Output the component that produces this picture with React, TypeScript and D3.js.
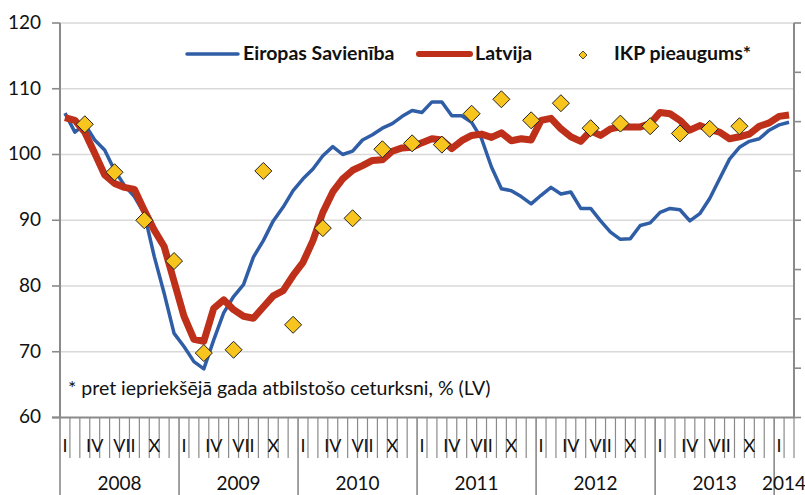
import React from "react";
import * as d3 from "d3";

// Monthly index values, Jan 2008 – Feb 2014
const euValues: number[] = [
  106.3, 103.4, 104.6, 102.2, 100.7, 97.6, 95.3, 93.6, 91.0, 84.5, 78.9, 72.8,
  70.8, 68.5, 67.4, 71.8, 75.9, 78.4, 80.2, 84.4, 86.9, 89.9, 92.0, 94.5,
  96.3, 97.8, 99.8, 101.2, 100.0, 100.5, 102.2, 103.0, 104.0, 104.7, 105.8, 106.7,
  106.4, 108.0, 108.0, 105.9, 105.9, 104.9, 102.4, 98.1, 94.8, 94.5, 93.6, 92.5,
  93.8, 95.0, 94.0, 94.3, 91.8, 91.8, 89.9, 88.2, 87.1, 87.2, 89.2, 89.6,
  91.2, 91.8, 91.6, 89.9, 91.0, 93.3, 96.3, 99.3, 101.1, 102.0, 102.4, 103.7,
  104.5, 104.9,
];

const lvValues: number[] = [
  105.6, 105.2, 103.4, 100.2, 96.9, 95.6, 95.0, 94.7, 91.5, 88.5, 86.0, 80.7,
  75.4, 71.9, 71.6, 76.6, 77.9, 76.4, 75.4, 75.1, 76.8, 78.5, 79.3, 81.6,
  83.6, 86.9, 91.2, 94.3, 96.3, 97.6, 98.3, 99.1, 99.2, 100.5, 101.0, 101.1,
  101.8, 102.4, 102.2, 100.9, 102.1, 102.9, 103.1, 102.6, 103.3, 102.1, 102.4, 102.2,
  105.2, 105.5, 103.9, 102.7, 102.0, 103.6, 102.9, 103.9, 104.2, 104.2, 104.2, 104.7,
  106.4, 106.2, 105.2, 103.7, 104.4, 103.8, 103.4, 102.4, 102.7, 103.1, 104.3, 104.8,
  105.8, 106.0,
];

// Quarterly GDP growth (Q1 2008 – Q3 2013)
const gdpValues: number[] = [
  104.6, 97.3, 90.0, 83.8,
  69.8, 70.3, 97.5, 74.1,
  88.8, 90.3, 100.8, 101.7,
  101.5, 106.2, 108.4, 105.2,
  107.8, 104.0, 104.7, 104.3,
  103.2, 103.9, 104.3,
];

const years: string[] = ["2008", "2009", "2010", "2011", "2012", "2013", "2014"];
const monthLabels: string[] = ["I", "", "", "IV", "", "", "VII", "", "", "X", "", ""];
const yTicks: number[] = [60, 70, 80, 90, 100, 110, 120];
const rightTicks: number[] = [60, 67.5, 75, 82.5, 90, 97.5, 105, 112.5, 120];

const seriesNames = ["Eiropas Savienība", "Latvija", "IKP pieaugums*"];
const footnote = "* pret iepriekšējā gada atbilstošo ceturksni, % (LV)";

const W = 805;
const H = 495;
const left = 60;
const right = 794;
const top = 23;
const bottom = 417.5;
const nMonths = 74;

const BLUE = "#2F5EA6";
const RED = "#BE3019";
const YELLOW = "#F7C51E";
const AXIS = "#8A8A8A";
const GRID = "#D9D9D9";
const FONT = "Lato, 'Liberation Sans', sans-serif";

export default function App() {
  const x = d3.scaleLinear().domain([0, nMonths]).range([left, right]);
  const y = d3.scaleLinear().domain([60, 120]).range([bottom, top]);

  const line = d3
    .line<number>()
    .x((_, i) => x(i + 0.5))
    .y((d) => y(d));

  const diamond = (cx: number, cy: number, r: number) =>
    `M${cx},${cy - r}L${cx + r},${cy}L${cx},${cy + r}L${cx - r},${cy}Z`;

  const monthTicks = d3.range(0, nMonths + 1).filter((m) => m % 12 !== 0);
  const yearStarts = d3.range(0, years.length).map((k) => k * 12);

  return (
    <svg
      width={W}
      height={H}
      style={{ position: "absolute", left: 0, top: 0, background: "#fff" }}
      fontFamily={FONT}
    >
      <rect x={0} y={0} width={W} height={H} fill="#fff" />
      {/* gridlines */}
      {yTicks.filter((t) => t > 60).map((t) => (
        <line key={"g" + t} x1={left} x2={right} y1={y(t)} y2={y(t)} stroke={GRID} strokeWidth={1.6} />
      ))}
      {/* left axis */}
      <line x1={left} x2={left} y1={top} y2={bottom} stroke={AXIS} strokeWidth={2} />
      {yTicks.map((t) => (
        <g key={"yt" + t}>
          <line x1={left - 8} x2={left} y1={y(t)} y2={y(t)} stroke={AXIS} strokeWidth={1.6} />
          <text x={41} y={y(t) + 1} textAnchor="end" dominantBaseline="middle" fontSize={19} fill="#111">
            {t}
          </text>
        </g>
      ))}
      {/* right axis */}
      <line x1={right} x2={right} y1={top} y2={bottom} stroke={AXIS} strokeWidth={2} />
      {rightTicks.map((t) => (
        <line key={"rt" + t} x1={right} x2={right + 7} y1={y(t)} y2={y(t)} stroke={AXIS} strokeWidth={1.6} />
      ))}
      {/* x axis */}
      <line x1={left - 8} x2={right} y1={bottom} y2={bottom} stroke={AXIS} strokeWidth={2} />
      {monthTicks.map((m) => (
        <line key={"mt" + m} x1={x(m)} x2={x(m)} y1={bottom} y2={458} stroke={AXIS} strokeWidth={1.2} />
      ))}
      {yearStarts.map((m) => (
        <line key={"ys" + m} x1={x(m)} x2={x(m)} y1={bottom} y2={H} stroke={AXIS} strokeWidth={1.6} />
      ))}
      {d3.range(0, nMonths).map((m) =>
        monthLabels[m % 12] ? (
          <text key={"ml" + m} x={x(m + 0.5)} y={447} textAnchor="middle" dominantBaseline="middle" fontSize={18} fill="#111">
            {monthLabels[m % 12]}
          </text>
        ) : null
      )}
      {years.map((yr, k) => {
        const a = x(k * 12);
        const b = x(Math.min(nMonths, (k + 1) * 12));
        return (
          <text key={"yr" + yr} x={(a + b) / 2} y={485} textAnchor="middle" dominantBaseline="middle" fontSize={19} fill="#111">
            {yr}
          </text>
        );
      })}
      {/* series */}
      <path d={line(euValues) || ""} fill="none" stroke={BLUE} strokeWidth={3.5} strokeLinejoin="round" />
      <path d={line(lvValues) || ""} fill="none" stroke={RED} strokeWidth={7} strokeLinejoin="round" />
      {gdpValues.map((v, q) => (
        <path key={"d" + q} d={diamond(x(q * 3 + 2.5), y(v), 8.5)} fill={YELLOW} stroke="#222" strokeWidth={1} />
      ))}
      {/* footnote */}
      <text x={68} y={390} fontSize={19.5} fill="#111" dominantBaseline="middle">
        {footnote}
      </text>
      {/* legend */}
      <line x1={187} x2={238} y1={54} y2={54} stroke={BLUE} strokeWidth={3.5} strokeLinecap="round" />
      <text x={243} y={55} fontSize={19.5} fontWeight="bold" fill="#111" dominantBaseline="middle">
        {seriesNames[0]}
      </text>
      <line x1={419} x2={470} y1={54} y2={54} stroke={RED} strokeWidth={6} strokeLinecap="round" />
      <text x={475} y={55} fontSize={19.5} fontWeight="bold" fill="#111" dominantBaseline="middle">
        {seriesNames[1]}
      </text>
      <path d={diamond(583, 55, 4)} fill={YELLOW} stroke="#222" strokeWidth={0.8} />
      <text x={614} y={55} fontSize={19.5} fontWeight="bold" fill="#111" dominantBaseline="middle">
        {seriesNames[2]}
      </text>
    </svg>
  );
}
